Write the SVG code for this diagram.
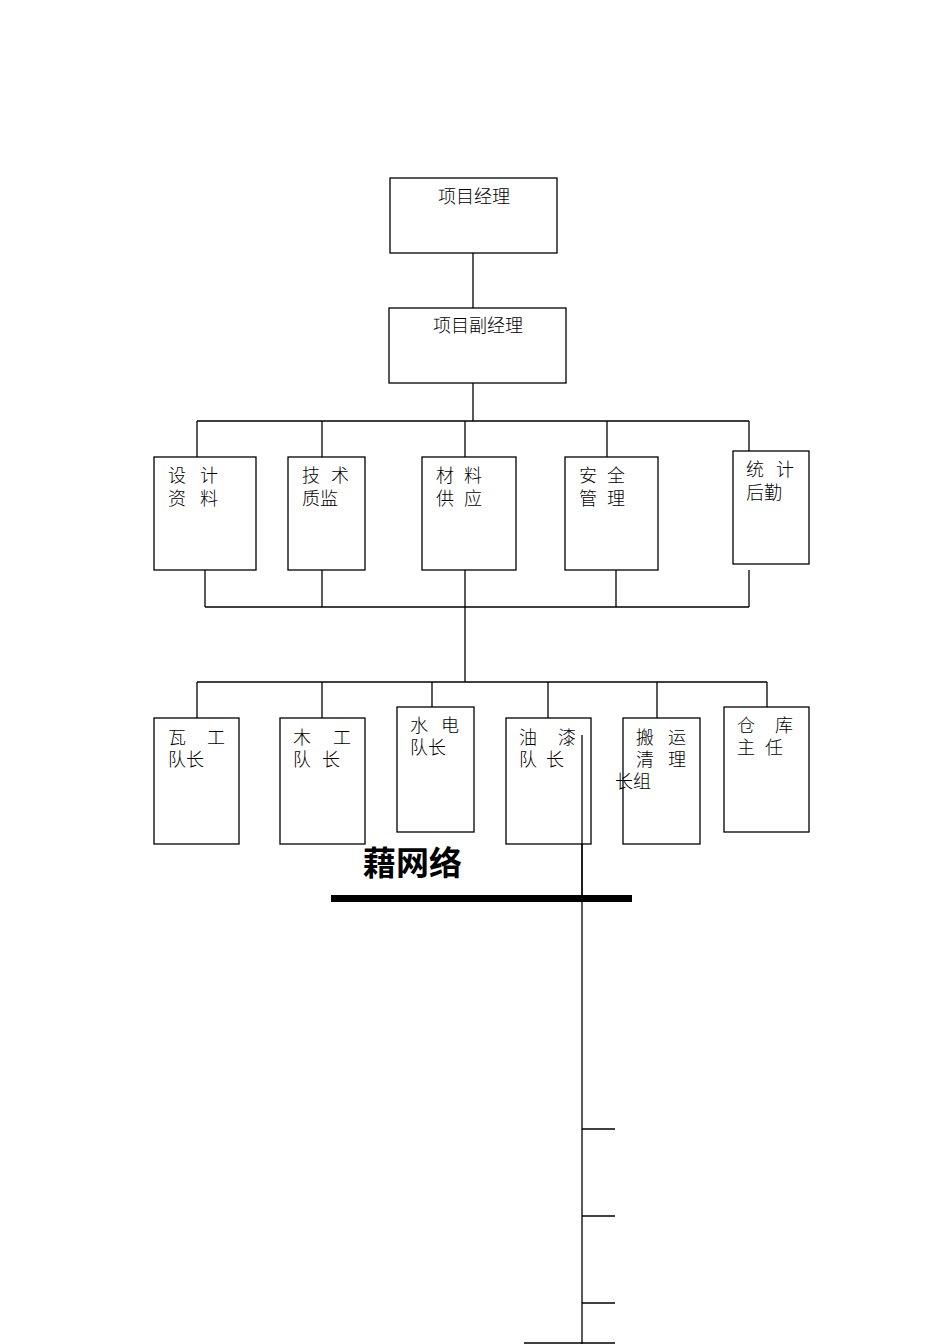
<svg xmlns="http://www.w3.org/2000/svg" width="950" height="1344" viewBox="0 0 950 1344">
<style>
rect{fill:#fff;stroke:#000;stroke-width:1.3}
line{stroke:#000;stroke-width:1.3}
text{font-family:"Noto Sans CJK SC","DejaVu Sans",sans-serif;font-size:18px;font-weight:300;fill:#000}
</style>
<rect width="950" height="1344" style="stroke:none"/>
<g id="connectors">
<line x1="473" y1="253" x2="473" y2="308"/>
<line x1="473" y1="383" x2="473" y2="421"/>
<line x1="197" y1="421" x2="749" y2="421"/>
<line x1="197" y1="421" x2="197" y2="457"/>
<line x1="322" y1="421" x2="322" y2="457"/>
<line x1="465" y1="421" x2="465" y2="682"/>
<line x1="607" y1="421" x2="607" y2="457"/>
<line x1="749" y1="421" x2="749" y2="460"/>
<line x1="205" y1="570" x2="205" y2="607"/>
<line x1="322" y1="570" x2="322" y2="607"/>
<line x1="616" y1="570" x2="616" y2="607"/>
<line x1="749" y1="570" x2="749" y2="607"/>
<line x1="205" y1="607" x2="749" y2="607"/>
<line x1="197" y1="682" x2="767" y2="682"/>
<line x1="197" y1="682" x2="197" y2="718"/>
<line x1="322" y1="682" x2="322" y2="718"/>
<line x1="432" y1="682" x2="432" y2="716"/>
<line x1="548" y1="682" x2="548" y2="718"/>
<line x1="657" y1="682" x2="657" y2="718"/>
<line x1="767" y1="682" x2="767" y2="718"/>
<line x1="582" y1="735" x2="582" y2="1344"/>
<line x1="582" y1="1129" x2="615" y2="1129"/>
<line x1="582" y1="1216" x2="615" y2="1216"/>
<line x1="582" y1="1303" x2="615" y2="1303"/>
<line x1="524" y1="1343" x2="615" y2="1343"/>
</g>
<g id="n1"><rect x="390" y="178" width="167" height="75"/><text x="474" y="203" text-anchor="middle">项目经理</text></g>
<g id="n2"><rect x="389" y="308" width="177" height="75"/><text x="478" y="332" text-anchor="middle">项目副经理</text></g>
<g id="n3"><rect x="154" y="457" width="102" height="113"/><text x="168" y="482">设</text><text x="200" y="482">计</text><text x="168" y="505">资</text><text x="200" y="505">料</text></g>
<g id="n4"><rect x="288" y="457" width="77" height="113"/><text x="302" y="482">技</text><text x="331" y="482">术</text><text x="302" y="505">质监</text></g>
<g id="n5"><rect x="422" y="457" width="94" height="113"/><text x="436" y="482">材</text><text x="464" y="482">料</text><text x="436" y="505">供</text><text x="464" y="505">应</text></g>
<g id="n6"><rect x="565" y="457" width="93" height="113"/><text x="579" y="482">安</text><text x="607" y="482">全</text><text x="579" y="505">管</text><text x="607" y="505">理</text></g>
<g id="n7"><rect x="733" y="451" width="76" height="113"/><text x="746" y="476">统</text><text x="776" y="476">计</text><text x="746" y="499">后勤</text></g>
<g id="n8"><rect x="154" y="718" width="85" height="126"/><text x="168" y="744">瓦</text><text x="207" y="744">工</text><text x="168" y="766">队长</text></g>
<g id="n9"><rect x="280" y="718" width="85" height="126"/><text x="293" y="744">木</text><text x="333" y="744">工</text><text x="293" y="766">队</text><text x="322" y="766">长</text></g>
<g id="n10"><rect x="397" y="707" width="77" height="125"/><text x="410" y="732">水</text><text x="441" y="732">电</text><text x="410" y="754">队长</text></g>
<g id="n11"><rect x="506" y="718" width="85" height="126"/><text x="519" y="744">油</text><text x="558" y="744">漆</text><text x="519" y="766">队</text><text x="546" y="766">长</text></g>
<g id="n12"><rect x="623" y="718" width="77" height="126"/><text x="636" y="744">搬</text><text x="668" y="744">运</text><text x="636" y="766">清</text><text x="668" y="766">理</text><text x="615" y="788">长组</text></g>
<g id="n13"><rect x="724" y="707" width="85" height="125"/><text x="737" y="732">仓</text><text x="775" y="732">库</text><text x="737" y="754">主</text><text x="765" y="754">任</text></g>
<g id="title"><text x="363" y="875" style="font-size:33px;font-weight:bold">藉网络</text>
<rect x="331" y="895" width="301" height="7" style="fill:#000;stroke:none"/></g>
<line x1="582" y1="735" x2="582" y2="900"/>
</svg>
